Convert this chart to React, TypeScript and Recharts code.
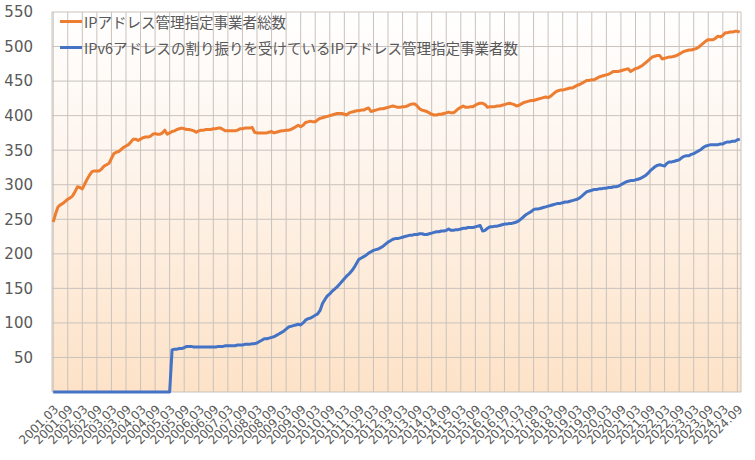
import React from 'react'
import {
  LineChart, Line, XAxis, YAxis, CartesianGrid, Legend,
} from 'recharts'

// monthly categories 2001.03 .. 2024.10
const START_YEAR = 2001
const START_MONTH = 3
const MONTH_COUNT = 284

const months: string[] = []
for (let i = 0; i < MONTH_COUNT; i++) {
  const total = START_MONTH - 1 + i
  const y = START_YEAR + Math.floor(total / 12)
  const m = (total % 12) + 1
  months.push(`${y}.${String(m).padStart(2, '0')}`)
}

// IPアドレス管理指定事業者総数 (2001.03 - 2024.10)
const totalMembers = [
  246, 258, 268, 271, 273, 276, 279, 281, 284, 290,
  297, 296, 294, 301, 308, 314, 319, 320, 320, 320, 323, 327,
  329, 331, 338, 345, 347, 348, 351, 354, 356, 358, 362, 366,
  366, 364, 366, 368, 369, 369, 370, 373, 374, 373, 373, 375,
  379, 373, 375, 377, 378, 380, 381, 382, 381, 380, 380, 379,
  378, 376, 378, 379, 379, 380, 380, 380, 381, 381, 382, 382,
  380, 378, 378, 378, 378, 378, 379, 381, 381, 382, 382, 382,
  383, 376, 375, 375, 375, 375, 375, 376, 377, 375, 376, 377,
  378, 378, 379, 379, 380, 382, 384, 386, 384, 386, 390, 391,
  392, 391, 391, 394, 396, 397, 398, 399, 400, 401, 402, 403,
  403, 403, 402, 401, 404, 405, 406, 407, 407, 408, 408, 410,
  411, 406, 407, 408, 409, 410, 410, 411, 412, 413, 414, 413,
  412, 412, 413, 413, 414, 416, 417, 417, 414, 410, 408, 407,
  406, 404, 402, 401, 401, 402, 402, 403, 404, 405, 404, 404,
  407, 410, 412, 414, 412, 412, 413, 413, 415, 417, 418, 418,
  416, 412, 413, 413, 413, 414, 414, 415, 416, 417, 418, 417,
  416, 414, 415, 417, 419, 420, 421, 422, 422, 423, 424, 425,
  426, 427, 426, 428, 431, 434, 436, 437, 437, 438, 439, 440,
  440, 442, 444, 445, 447, 449, 451, 451, 452, 452, 454, 456,
  457, 458, 459, 460, 462, 464, 464, 464, 465, 466, 467, 468,
  464, 466, 468, 469, 471, 473, 476, 479, 482, 485, 486, 487,
  487, 482, 483, 484, 485, 485, 486, 487, 489, 491, 493, 494,
  495, 495, 496, 497, 499, 502, 505, 508, 510, 510, 510, 512,
  515, 514, 516, 520, 520, 521, 521, 522, 522, 521,
]

// IPv6アドレスの割り振りを受けているIPアドレス管理指定事業者数
const ipv6Members = [
  0, 0, 0, 0, 0, 0, 0, 0, 0, 0,
  0, 0, 0, 0, 0, 0, 0, 0, 0, 0, 0, 0,
  0, 0, 0, 0, 0, 0, 0, 0, 0, 0, 0, 0,
  0, 0, 0, 0, 0, 0, 0, 0, 0, 0, 0, 0,
  0, 0, 0, 61, 62, 62, 63, 63, 64, 66, 66, 66,
  65, 65, 65, 65, 65, 65, 65, 65, 65, 65, 66, 66,
  66, 67, 67, 67, 67, 67, 68, 68, 68, 69, 69, 69,
  70, 70, 71, 73, 75, 77, 77, 78, 79, 80, 82, 84,
  86, 88, 91, 94, 95, 96, 97, 98, 97, 100, 104, 106,
  107, 109, 111, 113, 118, 128, 134, 139, 142, 146, 149, 152,
  156, 160, 164, 168, 171, 175, 180, 186, 192, 194, 196, 198,
  201, 203, 205, 206, 207, 209, 211, 214, 217, 219, 221, 222,
  222, 223, 224, 225, 226, 227, 227, 228, 228, 229, 229, 228,
  228, 229, 230, 231, 232, 232, 233, 233, 234, 236, 234, 234,
  235, 235, 236, 237, 237, 238, 238, 238, 239, 240, 241, 233,
  234, 237, 239, 239, 240, 240, 241, 242, 243, 243, 244, 244,
  245, 246, 248, 251, 254, 257, 259, 261, 264, 265, 265, 266,
  267, 268, 269, 270, 271, 272, 273, 273, 274, 275, 275, 276,
  277, 278, 279, 281, 284, 287, 290, 291, 292, 293, 293, 294,
  294, 295, 295, 296, 296, 297, 297, 298, 300, 302, 304, 305,
  306, 306, 307, 308, 309, 311, 313, 316, 320, 323, 326, 328,
  329, 328, 327, 331, 333, 333, 334, 335, 336, 339, 341, 342,
  342, 344, 345, 347, 349, 351, 354, 356, 357, 358, 358, 358,
  358, 359, 359, 361, 362, 362, 363, 363, 365, 366,
]

const yTicks = [0, 50, 100, 150, 200, 250, 300, 350, 400, 450, 500, 550]

const SERIES = [
  { key: 'total', name: 'IPアドレス管理指定事業者総数', color: '#ED7D31' },
  { key: 'ipv6', name: 'IPv6アドレスの割り振りを受けているIPアドレス管理指定事業者数', color: '#4472C4' },
]

const data = months.map((month, i) => ({
  month,
  total: totalMembers[i],
  ipv6: ipv6Members[i],
}))

const TEXT = '#595959'

function LegendBox() {
  return (
    <div style={{ fontFamily: '"Noto Sans CJK JP", sans-serif', fontSize: 14.5, color: TEXT }}>
      {SERIES.map((s) => (
        <div key={s.key} style={{ display: 'flex', alignItems: 'center', height: 26 }}>
          <span style={{ display: 'inline-block', width: 22, height: 3, background: s.color, marginRight: 2 }} />
          <span>{s.name}</span>
        </div>
      ))}
    </div>
  )
}

export default function App() {
  return (
    <div style={{ position: 'absolute', left: 0, top: 0, width: 755, height: 460, background: '#fff' }}>
      <LineChart width={755} height={460} data={data} margin={{ top: 12, right: 14, left: 0, bottom: 0 }}>
        <defs>
          <linearGradient id="plotBg" x1="0" y1="0" x2="0" y2="1">
            <stop offset="0%" stopColor="#ffffff" />
            <stop offset="35%" stopColor="#fef6ef" />
            <stop offset="100%" stopColor="#fde2c7" />
          </linearGradient>
        </defs>
        <CartesianGrid
          fill="url(#plotBg)"
          fillOpacity={1}
          stroke="#c9c2bc"
          horizontal={{ stroke: '#c6bfb9', strokeDasharray: '0' }}
          vertical={{ stroke: '#cfc7c0', strokeDasharray: '2 2' }}
        />
        <XAxis
          xAxisId="minor"
          dataKey="month"
          interval={0}
          height={0}
          mirror
          tick={() => <g />}
          tickSize={3}
          tickLine={{ stroke: '#c9c2bc' }}
          axisLine={false}
          padding={{ left: 1.2, right: 1.2 }}
        />
        <XAxis
          dataKey="month"
          interval={5}
          height={68}
          angle={-45}
          textAnchor="end"
          tickSize={6}
          tickMargin={6}
          tickLine={false}
          axisLine={false}
          padding={{ left: 1.2, right: 1.2 }}
          tick={{ fontSize: 12, fill: TEXT, fontFamily: '"DejaVu Sans", sans-serif' }}
        />
        <YAxis
          width={52}
          domain={[0, 550]}
          ticks={yTicks}
          tickFormatter={(v: number) => (v === 0 ? '' : String(v))}
          tickLine={false}
          axisLine={false}
          tickSize={6}
          tickMargin={13}
          tick={{ fontSize: 15, fill: TEXT, fontFamily: '"DejaVu Sans", sans-serif' }}
        />
        <Legend
          layout="vertical"
          align="center"
          verticalAlign="middle"
          wrapperStyle={{ top: 8, left: 60, width: 'auto' }}
          content={() => <LegendBox />}
        />
        {SERIES.map((s) => (
          <Line
            key={s.key}
            type="linear"
            dataKey={s.key}
            name={s.name}
            stroke={s.color}
            strokeWidth={3}
            strokeLinejoin="round"
            dot={false}
            activeDot={false}
            isAnimationActive={false}
          />
        ))}
      </LineChart>
    </div>
  )
}
